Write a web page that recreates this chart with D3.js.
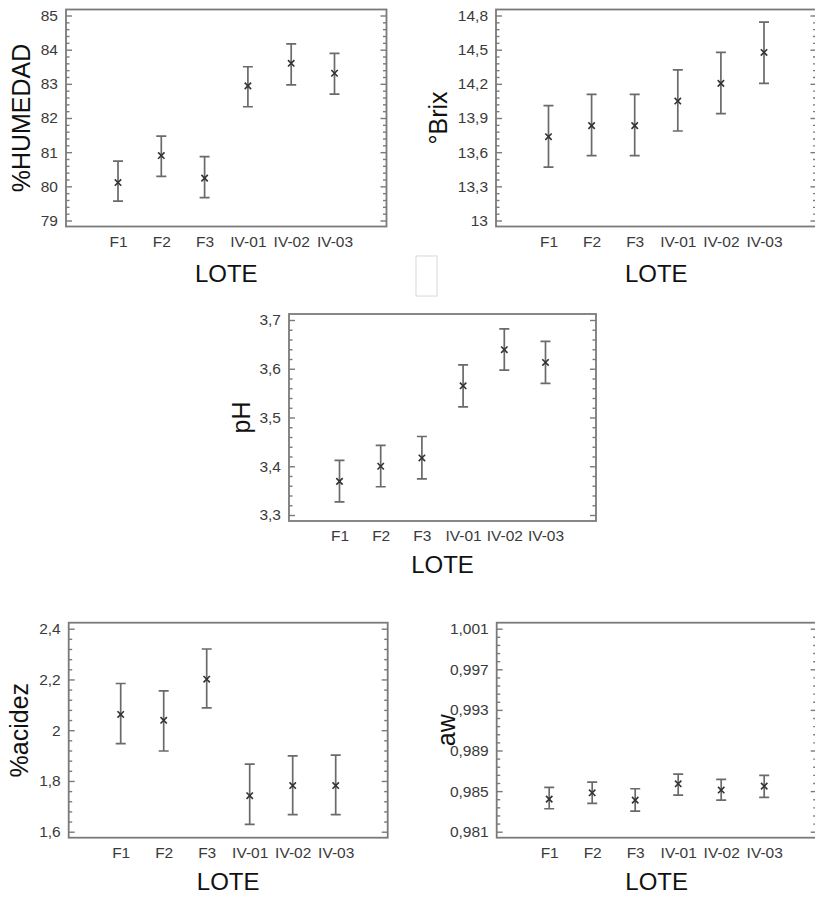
<!DOCTYPE html>
<html>
<head>
<meta charset="utf-8">
<script src="https://cdn.jsdelivr.net/npm/d3@7"></script>
<style>
  html, body { margin: 0; padding: 0; background: #fff; }
  svg { display: block; }
</style>
</head>
<body>
<div id="chart"></div>
<script>
const lote = ["F1", "F2", "F3", "IV-01", "IV-02", "IV-03"]

// medias e intervalos
const humedadMedia = [80.11, 80.90, 80.24, 82.94, 83.60, 83.31]
const humedadInf   = [79.57, 80.29, 79.67, 82.33, 82.97, 82.70]
const humedadSup   = [80.74, 81.47, 80.87, 83.50, 84.17, 83.89]
const humedadTicks = [79, 80, 81, 82, 83, 84, 85]

const brixMedia = [13.736, 13.833, 13.833, 14.049, 14.204, 14.476]
const brixInf   = [13.468, 13.570, 13.570, 13.786, 13.938, 14.204]
const brixSup   = [14.008, 14.108, 14.108, 14.323, 14.476, 14.741]
const brixTicks = [13, 13.3, 13.6, 13.9, 14.2, 14.5, 14.8]

const phMedia = [3.369, 3.400, 3.417, 3.565, 3.639, 3.613]
const phInf   = [3.327, 3.358, 3.374, 3.522, 3.597, 3.570]
const phSup   = [3.412, 3.443, 3.461, 3.608, 3.682, 3.656]
const phTicks = [3.3, 3.4, 3.5, 3.6, 3.7]

const acidezMedia = [2.062, 2.039, 2.201, 1.742, 1.782, 1.782]
const acidezInf   = [1.947, 1.918, 2.088, 1.629, 1.667, 1.667]
const acidezSup   = [2.184, 2.155, 2.320, 1.866, 1.899, 1.902]
const acidezTicks = [1.6, 1.8, 2, 2.2, 2.4]

const awMedia = [0.98421, 0.98483, 0.98411, 0.98572, 0.98510, 0.98549]
const awInf   = [0.98326, 0.98379, 0.98302, 0.98460, 0.98411, 0.98438]
const awSup   = [0.98537, 0.98589, 0.98523, 0.98668, 0.98615, 0.98655]
const awTicks = [0.981, 0.985, 0.989, 0.993, 0.997, 1.001]

const W = 815, H = 898
const gray = "#7a7a7a"
const font = "'Liberation Sans', Arial, sans-serif"
const fmt = d => String(d).replace(".", ",")

const svg = d3.create("svg")
    .attr("width", W)
    .attr("height", H)
    .attr("viewBox", [0, 0, W, H])
    .style("font-family", font)

function panel(p) {
  const g = svg.append("g")
  const pad = 6

  const x = d3.scalePoint()
      .domain(lote)
      .range([p.x0 + p.inset, p.x1 - p.inset])

  const y = d3.scaleLinear()
      .domain([p.ticks[0], p.ticks[p.ticks.length - 1]])
      .range([p.y1 - pad, p.y0 + pad])

  // minor ticks, 4 between each pair of majors
  const minor = []
  for (let i = 0; i < p.ticks.length - 1; i++) {
    for (let k = 1; k < 5; k++) minor.push(p.ticks[i] + (p.ticks[i + 1] - p.ticks[i]) * k / 5)
  }

  // left axis: inward ticks, labels outside
  const left = g.append("g")
      .attr("transform", `translate(${p.x0},0)`)
      .call(d3.axisLeft(y).tickValues(p.ticks).tickSizeInner(-6).tickSizeOuter(0).tickPadding(8).tickFormat(fmt))
  left.append("g")
      .call(d3.axisLeft(y).tickValues(minor).tickSizeInner(-3.5).tickSizeOuter(0).tickFormat(""))

  const right = g.append("g")
      .attr("transform", `translate(${p.x1},0)`)
      .call(d3.axisRight(y).tickValues(p.ticks).tickSizeInner(-6).tickSizeOuter(0).tickFormat(""))
  right.append("g")
      .call(d3.axisRight(y).tickValues(minor).tickSizeInner(-3.5).tickSizeOuter(0).tickFormat(""))

  g.append("g")
      .attr("transform", `translate(0,${p.y1})`)
      .call(d3.axisBottom(x).tickSize(0).tickPadding(9))

  g.selectAll(".domain").remove()
  g.selectAll(".tick line").attr("stroke", gray).attr("stroke-width", 1.4)
  g.selectAll(".tick text")
      .attr("fill", "#3a3a3a")
      .style("font-size", "15.5px")
      .style("font-family", font)

  // frame
  g.append("rect")
      .attr("x", p.x0)
      .attr("y", p.y0)
      .attr("width", p.x1 - p.x0)
      .attr("height", p.y1 - p.y0)
      .attr("fill", "none")
      .attr("stroke", gray)
      .attr("stroke-width", 1.8)

  const rows = lote.map((l, i) => ({ l, m: p.media[i], lo: p.inf[i], hi: p.sup[i] }))
  const cap = 5

  g.append("g")
      .attr("stroke", "#6a6a6a")
      .attr("stroke-width", 1.7)
      .attr("fill", "none")
    .selectAll("path")
    .data(rows)
    .join("path")
      .attr("d", d => {
        const cx = x(d.l), a = y(d.hi), b = y(d.lo)
        return `M${cx - cap},${a}H${cx + cap}M${cx},${a}V${b}M${cx - cap},${b}H${cx + cap}`
      })

  const s = 3.2
  g.append("g")
      .attr("stroke", "#333")
      .attr("stroke-width", 1.6)
    .selectAll("path")
    .data(rows)
    .join("path")
      .attr("d", d => {
        const cx = x(d.l), cy = y(d.m)
        return `M${cx - s},${cy - s}L${cx + s},${cy + s}M${cx - s},${cy + s}L${cx + s},${cy - s}`
      })

  // axis titles
  g.append("text")
      .attr("transform", `translate(${p.labelX},${(p.y0 + p.y1) / 2}) rotate(-90)`)
      .attr("text-anchor", "middle")
      .attr("fill", "#111")
      .style("font-size", "25px")
      .text(p.label)

  g.append("text")
      .attr("x", (p.x0 + p.x1) / 2)
      .attr("y", p.loteY)
      .attr("text-anchor", "middle")
      .attr("fill", "#111")
      .style("font-size", "24px")
      .text("LOTE")
}

panel({ x0: 66, x1: 386.5, y0: 9.5, y1: 226.5, inset: 52, ticks: humedadTicks,
        media: humedadMedia, inf: humedadInf, sup: humedadSup,
        label: "%HUMEDAD", labelX: 30, loteY: 282 })

panel({ x0: 496, x1: 816.5, y0: 9.5, y1: 226.5, inset: 52.5, ticks: brixTicks,
        media: brixMedia, inf: brixInf, sup: brixSup,
        label: "°Brix", labelX: 447, loteY: 282 })

panel({ x0: 289, x1: 596, y0: 314, y1: 521, inset: 50.5, ticks: phTicks,
        media: phMedia, inf: phInf, sup: phSup,
        label: "pH", labelX: 250, loteY: 573 })

panel({ x0: 68.7, x1: 387.7, y0: 622.7, y1: 837.7, inset: 52, ticks: acidezTicks,
        media: acidezMedia, inf: acidezInf, sup: acidezSup,
        label: "%acidez", labelX: 28, loteY: 890 })

panel({ x0: 496.7, x1: 816.7, y0: 622.7, y1: 837.7, inset: 52.5, ticks: awTicks,
        media: awMedia, inf: awInf, sup: awSup,
        label: "aw", labelX: 455, loteY: 890 })

// small empty box between the top panels
svg.append("rect")
    .attr("x", 416)
    .attr("y", 256)
    .attr("width", 21)
    .attr("height", 40)
    .attr("fill", "none")
    .attr("stroke", "#d8d8d8")
    .attr("stroke-width", 1)

d3.select("#chart").node().appendChild(svg.node())
</script>
</body>
</html>
